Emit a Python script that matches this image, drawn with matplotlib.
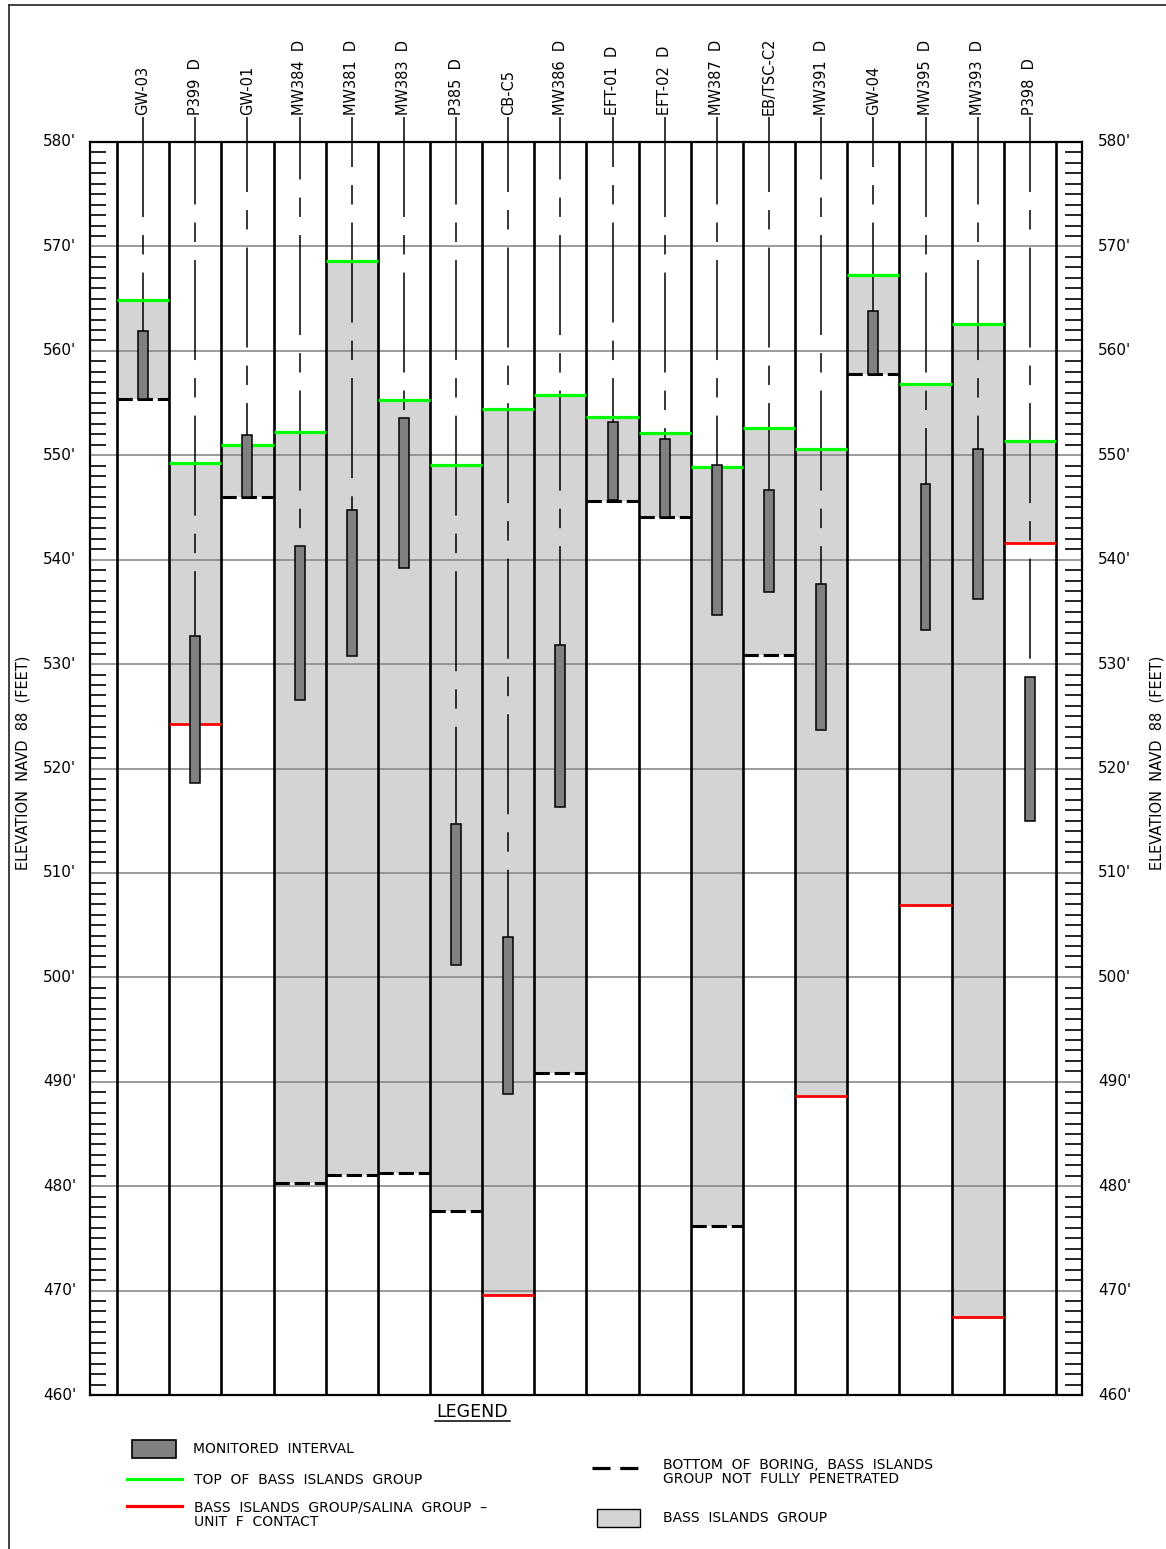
import matplotlib
matplotlib.use("Agg")
import matplotlib.pyplot as plt
from matplotlib.patches import Rectangle
from matplotlib.lines import Line2D

plt.rcParams['font.family'] = ['DejaVu Sans']
plt.rcParams['lines.scale_dashes'] = False

# ---------------- data ----------------
wells = ["GW-03", "P399  D", "GW-01", "MW384  D", "MW381  D", "MW383  D", "P385  D",
         "CB-C5", "MW386  D", "EFT-01  D", "EFT-02  D", "MW387  D", "EB/TSC-C2",
         "MW391  D", "GW-04", "MW395  D", "MW393  D", "P398  D"]
top_bass = [564.9, 549.3, 551.0, 552.2, 568.6, 555.3, 549.1, 554.4, 555.8, 553.7,
            552.1, 548.9, 552.6, 550.6, 567.3, 556.8, 562.6, 551.4]
bottom_elev = [555.4, 524.3, 546.0, 480.3, 481.1, 481.3, 477.6, 469.6, 490.8, 545.6,
               544.1, 476.2, 530.9, 488.6, 557.8, 506.9, 467.5, 541.6]
bottom_type = ["boring", "contact", "boring", "boring", "boring", "boring", "boring",
               "contact", "boring", "boring", "boring", "boring", "boring", "contact",
               "boring", "contact", "contact", "contact"]
mon_top = [561.9, 532.7, 551.9, 541.3, 544.8, 553.6, 514.7, 503.9, 531.8, 553.2,
           551.6, 549.1, 546.7, 537.7, 563.8, 547.2, 550.6, 528.8]
mon_bot = [555.4, 518.6, 546.0, 526.6, 530.8, 539.2, 501.2, 488.8, 516.3, 545.7,
           544.1, 534.7, 536.9, 523.7, 557.8, 533.3, 536.2, 515.0]
y_ticks = [580, 570, 560, 550, 540, 530, 520, 510, 500, 490, 480, 470, 460]
y_ticklabels = [f"{v}'" for v in y_ticks]

# ---------------- figure ----------------
W, H = 1166, 1549
fig = plt.figure(figsize=(W / 100, H / 100), dpi=100)

def fx(px):
    return px / W

def fy(py):
    return 1 - py / H

ax_l, ax_r, ax_t, ax_b = 90, 1082, 142, 1395
ax = fig.add_axes([fx(ax_l), fy(ax_b), fx(ax_r - ax_l), (ax_b - ax_t) / H])
n = len(wells)
ax.set_xlim(-0.518, n + 0.5)
ax.set_ylim(460, 580)
ax.set_xticks([])
ax.set_yticks([])
for s in ax.spines.values():
    s.set_linewidth(1.6)
    s.set_color('black')
    s.set_zorder(10)

LIGHT = '#d4d4d4'
DARK = '#808080'
GREEN = '#00ff00'
RED = '#ff0000'

# grid lines
for v in y_ticks[1:-1]:
    ax.axhline(v, color='#8a8a8a', lw=1.2, zorder=3)

# rulers
for v in range(461, 580):
    if v % 10 == 0:
        continue
    ax.plot([-0.518, -0.21], [v, v], color='black', lw=1.2, zorder=3, solid_capstyle='butt')
    ax.plot([n + 0.17, n + 0.5], [v, v], color='black', lw=1.2, zorder=3, solid_capstyle='butt')

# column separators
for i in range(n + 1):
    ax.axvline(i, color='black', lw=1.9, zorder=5)

casing_top = 582.4
casing_dash = (72, 13, 14, 13)
for i, name in enumerate(wells):
    xc = i + 0.5
    # Bass Islands fill
    ax.add_patch(Rectangle((i, bottom_elev[i]), 1, top_bass[i] - bottom_elev[i],
                           facecolor=LIGHT, edgecolor='none', zorder=1))
    # casing line
    ln = Line2D([xc, xc], [casing_top, mon_top[i]], color='black', lw=1.1,
                linestyle=((9 * i) % 45, casing_dash), zorder=4, clip_on=False)
    ax.add_line(ln)
    # top of bass islands
    ax.plot([i, i + 1], [top_bass[i], top_bass[i]], color=GREEN, lw=2.3, zorder=6,
            solid_capstyle='butt')
    # bottom
    if bottom_type[i] == "contact":
        ax.plot([i, i + 1], [bottom_elev[i]] * 2, color=RED, lw=2.0, zorder=6,
                solid_capstyle='butt')
    else:
        ax.plot([i, i + 1], [bottom_elev[i]] * 2, color='black', lw=2.2, zorder=6,
                linestyle=(0, (11, 3.5)), dash_capstyle='butt')
    # monitored interval
    ax.add_patch(Rectangle((xc - 0.095, mon_bot[i]), 0.19, mon_top[i] - mon_bot[i],
                           facecolor=DARK, edgecolor='black', lw=1.1, zorder=7))
    # well label
    ax.text(xc, casing_top + 0.15, name, rotation=90, ha='center', va='bottom',
            fontsize=10.5, clip_on=False)

# y tick labels
for v, lab in zip(y_ticks, y_ticklabels):
    yp = 142 + (580 - v) * (1253 / 120)
    fig.text(fx(76), fy(yp), lab, ha='right', va='center', fontsize=11)
    fig.text(fx(1098), fy(yp), lab, ha='left', va='center', fontsize=11)

fig.text(fx(23), fy(763), "ELEVATION  NAVD  88  (FEET)", rotation=90, ha='center',
         va='center', fontsize=10.5)
fig.text(fx(1157), fy(763), "ELEVATION  NAVD  88  (FEET)", rotation=90, ha='center',
         va='center', fontsize=10.5)

# outer frame (left & top)
fig.add_artist(Line2D([fx(9), fx(9)], [fy(5), fy(H + 5)], color='#333333', lw=1.3))
fig.add_artist(Line2D([fx(9), fx(W + 5)], [fy(5), fy(5)], color='#333333', lw=1.3))

# ---------------- legend ----------------
fig.text(fx(472), fy(1412), "LEGEND", ha='center', va='center', fontsize=12.5)
fig.add_artist(Line2D([fx(435), fx(510)], [fy(1421), fy(1421)], color='black', lw=1.1))

fig.add_artist(Rectangle((fx(132), fy(1458)), fx(44), 18 / H, facecolor=DARK,
                         edgecolor='black', lw=1.2, transform=fig.transFigure))
fig.text(fx(193), fy(1449), "MONITORED  INTERVAL", ha='left', va='center', fontsize=10)

fig.add_artist(Line2D([fx(127), fx(182)], [fy(1479), fy(1479)], color=GREEN, lw=2.3))
fig.text(fx(194), fy(1480), "TOP  OF  BASS  ISLANDS  GROUP", ha='left', va='center',
         fontsize=10)

fig.add_artist(Line2D([fx(127), fx(182)], [fy(1506), fy(1506)], color=RED, lw=2.3))
fig.text(fx(194), fy(1515), "BASS  ISLANDS  GROUP/SALINA  GROUP  –\nUNIT  F  CONTACT",
         ha='left', va='center', fontsize=10, linespacing=1.05)

fig.add_artist(Line2D([fx(592), fx(646)], [fy(1468), fy(1468)], color='black', lw=2.3,
                      linestyle=(0, (13, 7)), dash_capstyle='butt'))
fig.text(fx(663), fy(1472), "BOTTOM  OF  BORING,  BASS  ISLANDS\nGROUP  NOT  FULLY  PENETRATED",
         ha='left', va='center', fontsize=10, linespacing=1.05)

fig.add_artist(Rectangle((fx(597), fy(1527)), fx(43), 18 / H, facecolor=LIGHT,
                         edgecolor='black', lw=1.0, transform=fig.transFigure))
fig.text(fx(663), fy(1518), "BASS  ISLANDS  GROUP", ha='left', va='center', fontsize=10)

fig.savefig("out.png", dpi=100)
